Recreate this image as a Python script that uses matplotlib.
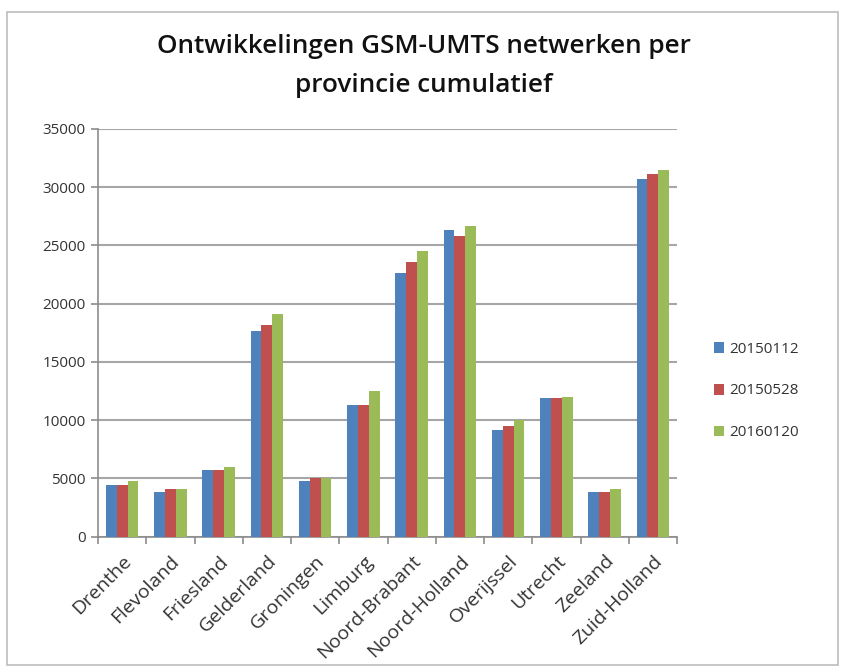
import matplotlib
matplotlib.use("Agg")
import matplotlib.pyplot as plt
import numpy as np
from matplotlib.patches import Rectangle

provinces = ["Drenthe", "Flevoland", "Friesland", "Gelderland", "Groningen", "Limburg",
             "Noord-Brabant", "Noord-Holland", "Overijssel", "Utrecht", "Zeeland", "Zuid-Holland"]
s_20150112 = [4400, 3800, 5700, 17700, 4800, 11300, 22600, 26300, 9200, 11900, 3800, 30700]
s_20150528 = [4400, 4100, 5700, 18200, 5000, 11300, 23600, 25800, 9500, 11900, 3800, 31100]
s_20160120 = [4800, 4100, 6000, 19100, 5000, 12500, 24500, 26700, 10000, 12000, 4100, 31500]
series_names = ["20150112", "20150528", "20160120"]
colors = ["#4F81BD", "#C0504D", "#9BBB59"]
yticks = [0, 5000, 10000, 15000, 20000, 25000, 30000, 35000]

plt.rcParams['font.family'] = ['Open Sans', 'DejaVu Sans']

fig = plt.figure(figsize=(8.44, 6.72), dpi=100)
fig.patches.append(Rectangle((7/844, 7/672), 831/844, 653/672, transform=fig.transFigure,
                             fill=False, edgecolor="#bdbdbd", linewidth=1.2))
ax = fig.add_axes([98/844, 1-536.7/672, (677-98)/844, (536.7-129)/672])

x = np.arange(len(provinces))
w = 0.225
for i, (vals, name, c) in enumerate(zip([s_20150112, s_20150528, s_20160120], series_names, colors)):
    ax.bar(x + (i-1)*w, vals, width=w, color=c, label=name, zorder=3)

ax.set_xlim(-0.5, len(provinces)-0.5)
ax.set_ylim(0, 35000)
ax.set_yticks(yticks)
ax.set_yticklabels([str(v) for v in yticks], fontsize=11, color="#333333")
ax.yaxis.grid(True, color="#a6a6a6", linewidth=1.5, zorder=0)
ax.set_xticks(x)
ax.set_xticklabels(provinces, rotation=45, ha="right", rotation_mode="anchor", fontsize=14, color="#333333")
ax.set_xticks(np.arange(-0.5, len(provinces)), minor=True)
ax.tick_params(axis="x", which="major", length=0, pad=11)
ax.tick_params(axis="x", which="minor", length=5, color="#8c8c8c", width=1.2)
ax.tick_params(axis="y", length=5, color="#8c8c8c", width=1.2, pad=4)
for s in ["top", "right"]:
    ax.spines[s].set_visible(False)
for s in ["left", "bottom"]:
    ax.spines[s].set_color("#8c8c8c")
    ax.spines[s].set_linewidth(1.2)

fig.text(424/844, 1-66/672, "Ontwikkelingen GSM-UMTS netwerken per\nprovincie cumulatief",
         ha="center", va="center", fontsize=18.8, fontweight="semibold", color="#111111", linespacing=1.7)

leg = fig.legend(loc="center left", bbox_to_anchor=(700/844, 1-391/672), frameon=False,
                 fontsize=11, handlelength=0.7, handleheight=0.7, handletextpad=0.3, labelspacing=1.75)
for t in leg.get_texts():
    t.set_color("#333333")

fig.savefig("out.png", dpi=100)
